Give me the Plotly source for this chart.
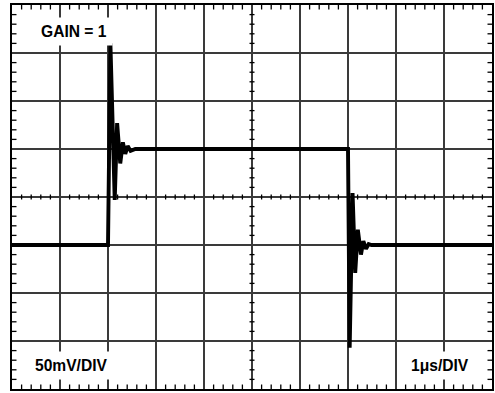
import plotly.graph_objects as go

# ---- data (time in microseconds, amplitude in mV) ----
time_us = [0.0, 2.00, 2.05, 2.14, 2.19, 2.255, 2.31, 2.36, 2.41, 2.47, 2.57,
           7.00, 7.035, 7.095, 7.15, 7.205, 7.27, 7.32, 7.375, 7.43, 7.49, 10.0]
volts_mv = [-50, -50, 160, -3, 77, 35, 57, 45, 53, 48, 50,
            50, -157, 4, -79, -34, -60, -46, -54, -49, -50, -50]

x_divs = 10          # 1 us / div
y_divs = 8           # 50 mV / div
x_per_div = 1.0
y_per_div = 50.0
minor_per_div = 5

label_gain = "GAIN = 1"
label_v = "50mV/DIV"
label_t = "1μs/DIV"

fig = go.Figure()
fig.add_trace(go.Scatter(x=time_us, y=volts_mv, mode="lines",
                         line=dict(color="black", width=3.9), hoverinfo="skip"))

x_min, x_max = 0, x_divs * x_per_div
y_min, y_max = -y_divs / 2 * y_per_div, y_divs / 2 * y_per_div
x_center = (x_min + x_max) / 2
y_center = 0

shapes = []
tick_col = "black"
# minor ticks along x (top border, bottom border, center line)
for i in range(x_divs * minor_per_div + 1):
    if i % minor_per_div == 0:
        continue
    xv = x_min + i * x_per_div / minor_per_div
    for anchor, p0, p1 in [(y_max, -4.5, 0), (y_min, 0, 4.5), (y_center, -2.5, 2.5)]:
        shapes.append(dict(type="line", xref="x", yref="y", x0=xv, x1=xv,
                           ysizemode="pixel", yanchor=anchor, y0=p0, y1=p1,
                           line=dict(color=tick_col, width=1.3)))
# minor ticks along y (left border, right border, center line)
for j in range(y_divs * minor_per_div + 1):
    if j % minor_per_div == 0:
        continue
    yv = y_min + j * y_per_div / minor_per_div
    for anchor, p0, p1 in [(x_min, 0, 4.5), (x_max, -4.5, 0), (x_center, -2.5, 2.5)]:
        shapes.append(dict(type="line", xref="x", yref="y", y0=yv, y1=yv,
                           xsizemode="pixel", xanchor=anchor, x0=p0, x1=p1,
                           line=dict(color=tick_col, width=1.3)))

font = dict(family="Arial, Liberation Sans, sans-serif", size=15.6, color="black")
common = dict(xref="paper", yref="paper", showarrow=False, font=font,
              bgcolor="white", borderpad=5, xanchor="center", yanchor="middle")
annotations = [
    dict(text="<b>%s</b>" % label_gain, x=0.1286, y=0.932, **common),
    dict(text="<b>%s</b>" % label_v, x=0.124, y=0.060, **common),
    dict(text="<b>%s</b>" % label_t, x=0.892, y=0.062, **common),
]

grid_col = "#3a3a3a"
fig.update_layout(
    width=495, height=393,
    margin=dict(l=12, r=1, t=5, b=4),
    paper_bgcolor="white", plot_bgcolor="white",
    showlegend=False,
    shapes=shapes,
    annotations=annotations,
    xaxis=dict(range=[x_min, x_max], dtick=x_per_div, tick0=0, showgrid=True,
               gridcolor=grid_col, gridwidth=1.5, zeroline=False,
               showticklabels=False, ticks="", showline=True, mirror=True,
               linecolor="black", linewidth=2, fixedrange=True),
    yaxis=dict(range=[y_min, y_max], dtick=y_per_div, tick0=0, showgrid=True,
               gridcolor=grid_col, gridwidth=1.5, zeroline=False,
               showticklabels=False, ticks="", showline=True, mirror=True,
               linecolor="black", linewidth=2, fixedrange=True),
)

fig.write_html("out.html", config={"displayModeBar": False},
               post_script="document.body.style.margin='0';document.body.style.overflow='hidden';")
